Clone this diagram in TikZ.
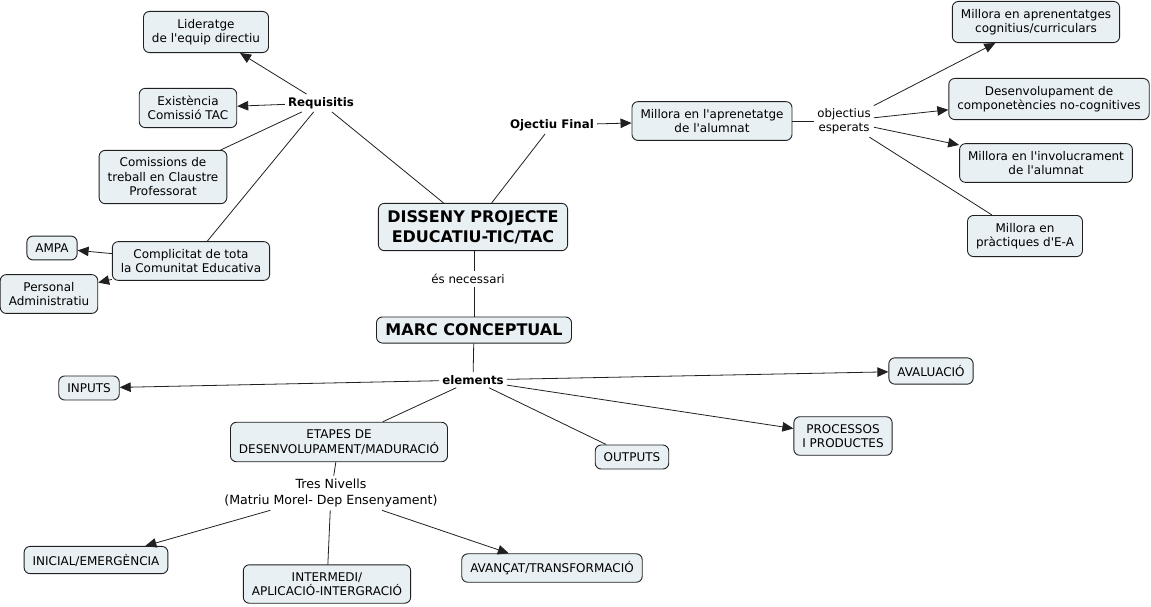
\documentclass[tikz,border=0pt]{standalone}
\usepackage{fontspec}
\setmainfont{DejaVu Sans}[Ligatures=TeXOff]
\usetikzlibrary{arrows.meta}
\definecolor{boxfill}{HTML}{E8F0F3}
\definecolor{edge}{HTML}{202020}
\tikzset{
  box/.style={draw=edge, line width=0.9pt, rounded corners=6pt, fill=boxfill, align=center,
    font=\fontsize{12}{14.5}\selectfont, inner xsep=8.5pt, inner ysep=7.5pt},
  bigbox/.style={box, font=\bfseries\fontsize{16}{20}\selectfont, inner xsep=9pt, inner ysep=7pt},
  lbl/.style={align=center, font=\fontsize{11.8}{14.5}\selectfont, inner sep=3pt},
  blbl/.style={lbl, font=\bfseries\fontsize{11.8}{14.5}\selectfont},
  conn/.style={draw=edge, line width=0.8pt},
  arr/.style={conn, -{Triangle[length=11pt,width=9.5pt]}}
}
\begin{document}
\begin{tikzpicture}[x=1pt,y=-1pt]
\useasboundingbox (0,0) rectangle (1151,606);
% top left
\node[box] (lid) at (206,32) {Lideratge\\de l'equip directiu};
\node[blbl] (req) at (321,103) {Requisitis};
\node[box] (exi) at (188,108) {Existència\\Comissió TAC};
\node[box] (com) at (163,177) {Comissions de\\treball en Claustre\\Professorat};
\node[box] (cpl) at (191,261) {Complicitat de tota\\la Comunitat Educativa};
\node[box] (ampa) at (52,248) {AMPA};
\node[box] (pers) at (49,294) {Personal\\Administratiu};
% centre
\node[bigbox] (dis) at (473,227) {DISSENY PROJECTE\\EDUCATIU-TIC/TAC};
\node[lbl] (nec) at (468,279) {és necessari};
\node[bigbox] (marc) at (474,330) {MARC CONCEPTUAL};
\node[blbl] (elem) at (473,380) {elements};
% top right
\node[blbl] (obj) at (552,125) {Ojectiu Final};
\node[box] (mil) at (712,121) {Millora en l'aprenetatge\\de l'alumnat};
\node[lbl] (esp) at (844,121) {objectius\\esperats};
\node[box] (cog) at (1036,22) {Millora en aprenentatges\\cognitius/curriculars};
\node[box] (des) at (1049,99) {Desenvolupament de\\componetències no-cognitives};
\node[box] (inv) at (1046,163) {Millora en l'involucrament\\de l'alumnat};
\node[box] (prac) at (1025,236) {Millora en\\pràctiques d'E-A};
% bottom
\node[box] (inp) at (89,388) {INPUTS};
\node[box] (aval) at (931,371) {AVALUACIÓ};
\node[box] (proc) at (843,436) {PROCESSOS\\I PRODUCTES};
\node[box] (outp) at (632,457) {OUTPUTS};
\node[box] (etap) at (339,442) {ETAPES DE\\DESENVOLUPAMENT/MADURACIÓ};
\node[lbl, font=\fontsize{12.6}{16}\selectfont] (tres) at (331,493) {Tres Nivells\\(Matriu Morel- Dep Ensenyament)};
\node[box] (ini) at (96,560) {INICIAL/EMERGÈNCIA};
\node[box] (intm) at (327,584) {INTERMEDI/\\APLICACIÓ-INTERGRACIÓ};
\node[box] (avan) at (552,568) {AVANÇAT/TRANSFORMACIÓ};
% connectors
\draw[conn] (dis) -- (req);
\draw[arr] (req) -- (lid);
\draw[arr] (req) -- (exi);
\draw[conn] (req) -- (com);
\draw[conn] (req) -- (cpl);
\draw[arr] (cpl) -- (ampa);
\draw[arr] (cpl) -- (pers);
\draw[conn] (dis) -- (obj);
\draw[arr] (obj) -- (mil);
\draw[conn] (mil) -- (esp);
\draw[arr] (esp) -- (cog);
\draw[arr] (esp) -- (des);
\draw[arr] (esp) -- (inv);
\draw[conn] (esp) -- (prac);
\draw[conn] (dis.south -| 474,0) -- (nec.north -| 474,0);
\draw[conn] (nec.south -| 474,0) -- (marc.north -| 474,0);
\draw[conn] (marc) -- (elem);
\draw[arr] (elem) -- (inp);
\draw[arr] (elem) -- (aval);
\draw[arr] (elem) -- (proc);
\draw[conn] (elem) -- (etap);
\draw[conn] (elem) -- (outp);
\draw[conn] (etap) -- (tres);
\draw[arr] (tres) -- (ini);
\draw[conn] (tres) -- (intm);
\draw[arr] (tres) -- (avan);
\end{tikzpicture}
\end{document}
